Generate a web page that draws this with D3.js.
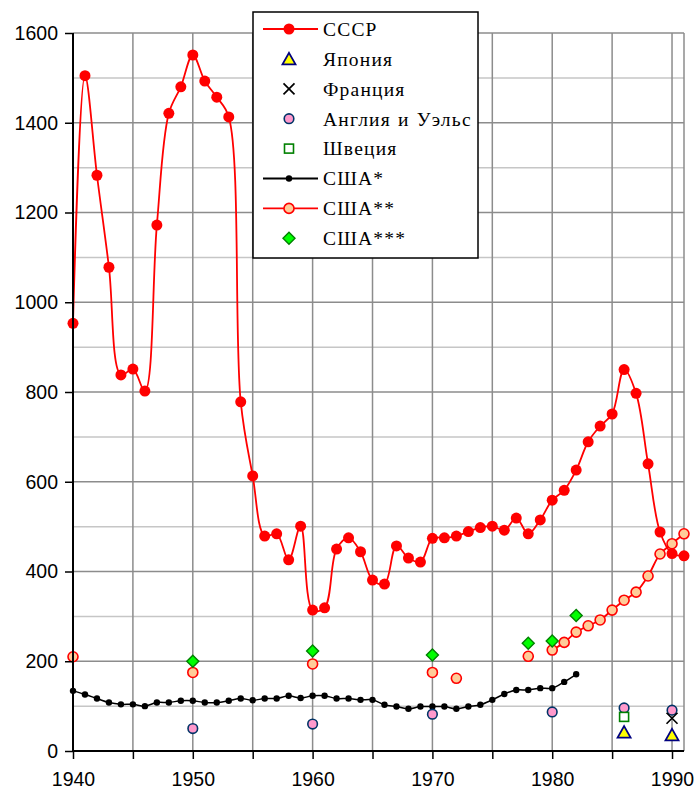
<!DOCTYPE html>
<html>
<head>
<meta charset="utf-8">
<script src="https://cdn.jsdelivr.net/npm/d3@7"></script>
<style>
  body { margin: 0; background: #fff; }
  text { fill: #000; }
</style>
</head>
<body>
<script>
// --- data ---
const ussrYears = d3.range(1940, 1992);
const ussrValues = [953, 1505, 1283, 1078, 838, 851, 802, 1172, 1421, 1480,
  1551, 1493, 1457, 1413, 778, 613, 479, 484, 426, 501,
  314, 319, 450, 475, 444, 381, 372, 457, 430, 421,
  474, 475, 479, 489, 498, 501, 492, 519, 484, 515,
  559, 581, 626, 689, 724, 751, 850, 797, 640, 488,
  440, 435];

const usa1Years = d3.range(1940, 1983);
const usa1Values = [134, 126, 117, 108, 104, 104, 100, 108, 108, 112,
  112, 108, 108, 112, 117, 113, 117, 117, 123, 118,
  123, 123, 117, 117, 114, 114, 103, 99, 94, 99,
  99, 99, 94, 99, 103, 114, 127, 136, 136, 140,
  140, 154, 171];

const usa2Years = [1940, 1950, 1960, 1970, 1972, 1978, 1980, 1981, 1982, 1983, 1984, 1985, 1986, 1987, 1988, 1989, 1990, 1991];
const usa2Values = [210, 175, 194, 175, 162, 211, 225, 242, 265, 279, 292, 314, 336, 354, 390, 439, 462, 484];

const usa3Years = [1950, 1960, 1970, 1978, 1980, 1982];
const usa3Values = [200, 223, 214, 240, 245, 302];

const englandYears = [1950, 1960, 1970, 1980, 1986, 1990];
const englandValues = [50, 60, 82, 87, 96, 91];

const swedenYears = [1986];
const swedenValues = [76];

const japanYears = [1986, 1990];
const japanValues = [42, 36];

const franceYears = [1990];
const franceValues = [73];

const legendLabels = ["СССР", "Япония", "Франция", "Англия и Уэльс", "Швеция", "США*", "США**", "США***"];

const yTicks = [0, 200, 400, 600, 800, 1000, 1200, 1400, 1600];
const xTicks = [1940, 1950, 1960, 1970, 1980, 1990];

// --- layout ---
const W = 695, H = 791;
const Lpad = 73, Rpad = 684, Tpad = 33, Bpad = 751;

const svg = d3.select("body").append("svg")
  .attr("width", W)
  .attr("height", H);

const x = d3.scaleLinear().domain([1940, 1991]).range([Lpad, Rpad]);
const y = d3.scaleLinear().domain([0, 1600]).range([Bpad, Tpad]);

const zip = (xs, vs) => xs.map((d, i) => ({ year: d, value: vs[i] }));

// grid
const grid = svg.append("g");
grid.selectAll(".minor")
  .data(d3.range(100, 1600, 200))
  .enter().append("line")
  .attr("x1", Lpad).attr("x2", Rpad)
  .attr("y1", d => y(d)).attr("y2", d => y(d))
  .attr("stroke", "#c6c6c6").attr("stroke-width", 1.5);
grid.selectAll(".major")
  .data(d3.range(200, 1601, 200))
  .enter().append("line")
  .attr("x1", Lpad).attr("x2", Rpad)
  .attr("y1", d => y(d)).attr("y2", d => y(d))
  .attr("stroke", "#8c8c8c").attr("stroke-width", 1.5);
grid.selectAll(".vert")
  .data(d3.range(1945, 1991, 5).concat([1991]))
  .enter().append("line")
  .attr("x1", d => x(d)).attr("x2", d => x(d))
  .attr("y1", Tpad).attr("y2", Bpad)
  .attr("stroke", "#8c8c8c").attr("stroke-width", 1.5);

// lines (break where a year is missing)
function segLine(pts) {
  const withGaps = [];
  pts.forEach((p, i) => {
    if (i > 0 && p.year - pts[i - 1].year > 1) withGaps.push(null);
    withGaps.push(p);
  });
  return d3.line()
    .defined(d => d !== null)
    .x(d => x(d.year)).y(d => y(d.value))
    .curve(d3.curveCatmullRom.alpha(0.5))(withGaps);
}

const usa1 = zip(usa1Years, usa1Values);
const ussr = zip(ussrYears, ussrValues);
const usa2 = zip(usa2Years, usa2Values);

svg.append("path").attr("d", segLine(usa1))
  .attr("fill", "none").attr("stroke", "#000").attr("stroke-width", 1.5);
svg.append("path").attr("d", segLine(ussr))
  .attr("fill", "none").attr("stroke", "#ff0000").attr("stroke-width", 1.8);
svg.append("path").attr("d", segLine(usa2))
  .attr("fill", "none").attr("stroke", "#ff0000").attr("stroke-width", 1.8);

// markers
const sym = {
  ussr: (g) => g.append("circle").attr("r", 5.5).attr("fill", "#ff0000"),
  japan: (g) => g.append("path").attr("d", "M0,-6L6.5,5.5L-6.5,5.5Z")
    .attr("fill", "#ffff00").attr("stroke", "#000080").attr("stroke-width", 1.8),
  france: (g) => g.append("path").attr("d", "M-5.5,-5.5L5.5,5.5M-5.5,5.5L5.5,-5.5")
    .attr("fill", "none").attr("stroke", "#000").attr("stroke-width", 1.7),
  england: (g) => g.append("circle").attr("r", 4.8)
    .attr("fill", "#ff99cc").attr("stroke", "#003366").attr("stroke-width", 1.6),
  sweden: (g) => g.append("rect").attr("x", -4.5).attr("y", -4.5).attr("width", 9).attr("height", 9)
    .attr("fill", "#fff").attr("stroke", "#008000").attr("stroke-width", 1.6),
  usa1: (g) => g.append("circle").attr("r", 3.2).attr("fill", "#000"),
  usa2: (g) => g.append("circle").attr("r", 5)
    .attr("fill", "#ffcc99").attr("stroke", "#ff0000").attr("stroke-width", 1.6),
  usa3: (g) => g.append("path").attr("d", "M0,-6L6,0L0,6L-6,0Z")
    .attr("fill", "#00ff00").attr("stroke", "#008000").attr("stroke-width", 1.4)
};

function drawPoints(pts, s) {
  pts.forEach(p => {
    const g = svg.append("g").attr("transform", `translate(${x(p.year)},${y(p.value)})`);
    sym[s](g);
  });
}

drawPoints(usa1, "usa1");
drawPoints(ussr, "ussr");
drawPoints(zip(englandYears, englandValues), "england");
drawPoints(zip(swedenYears, swedenValues), "sweden");
drawPoints(zip(japanYears, japanValues), "japan");
drawPoints(zip(franceYears, franceValues), "france");
drawPoints(usa2, "usa2");
drawPoints(zip(usa3Years, usa3Values), "usa3");

// axes
const yAxis = d3.axisLeft(y).tickValues(yTicks).tickSize(8).tickPadding(7).tickFormat(d3.format("d"));
const gy = svg.append("g").attr("transform", `translate(${Lpad},0)`).call(yAxis);
const xAxis = d3.axisBottom(x).tickValues(d3.range(1940, 1991, 5)).tickSize(8).tickPadding(13)
  .tickFormat(d => xTicks.includes(d) ? d : "");
const gx = svg.append("g").attr("transform", `translate(0,${Bpad})`).call(xAxis);

[gx, gy].forEach(g => {
  g.select(".domain").attr("stroke", "#000").attr("stroke-width", 2);
  g.selectAll(".tick line").attr("stroke", "#000").attr("stroke-width", 1.5);
  g.selectAll("text").style("font-family", "Liberation Sans, Arial, sans-serif")
    .style("font-size", "19.5px").attr("fill", "#000");
});
gx.select(".domain").attr("d", `M${Lpad},0H${Rpad}`);
gy.select(".domain").attr("d", `M0,${Bpad}V${Tpad}`);

// legend
const legend = svg.append("g");
legend.append("rect")
  .attr("x", 253).attr("y", 12).attr("width", 225).attr("height", 246)
  .attr("fill", "#fff").attr("stroke", "#000").attr("stroke-width", 1.5);
const legendKeys = ["ussr", "japan", "france", "england", "sweden", "usa1", "usa2", "usa3"];
const legendLine = { ussr: "#ff0000", usa1: "#000", usa2: "#ff0000" };
legendKeys.forEach((k, i) => {
  const cy = 29 + i * 29.9;
  if (legendLine[k]) {
    legend.append("line").attr("x1", 263).attr("x2", 318).attr("y1", cy).attr("y2", cy)
      .attr("stroke", legendLine[k]).attr("stroke-width", 1.8);
  }
  const g = legend.append("g").attr("transform", `translate(289,${cy})`);
  sym[k](g);
  legend.append("text")
    .attr("x", 323).attr("y", cy).attr("dy", "0.35em")
    .style("font-family", "Liberation Serif, Times New Roman, serif")
    .style("font-size", "19.5px")
    .style("letter-spacing", "1.2px")
    .style("word-spacing", "1px")
    .text(legendLabels[i]);
});
</script>
</body>
</html>
